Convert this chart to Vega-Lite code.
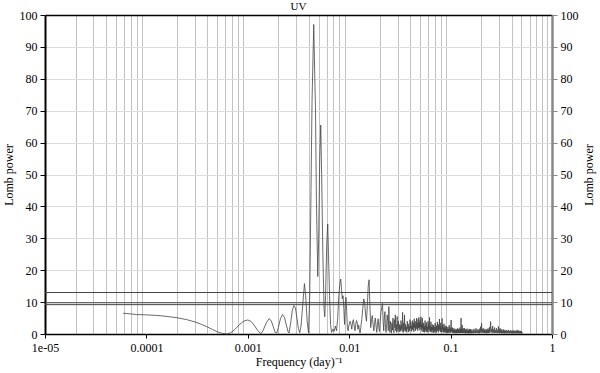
{
  "$schema": "https://vega.github.io/schema/vega-lite/v6.json",
  "autosize": {"type": "none"},
  "width": 507,
  "height": 319,
  "padding": {"left": 45, "top": 15, "right": 48, "bottom": 39},
  "background": "white",
  "config": {
    "font": "Liberation Serif",
    "view": {"stroke": null},
    "axis": {"labelFont": "Liberation Serif", "titleFont": "Liberation Serif", "labelFontSize": 12, "titleFontSize": 12, "titleFontWeight": "normal", "labelColor": "#000", "titleColor": "#000"}
  },
  "title": {"text": "UV", "fontSize": 11, "fontWeight": "normal", "font": "Liberation Serif", "offset": 1, "dy": 4, "color": "#000"},
  "data": {"values": [
    {"f":0.000059,"p":6.5},{"f":0.00007,"p":6.3},{"f":0.00008,"p":6.1},{"f":0.0001,"p":6.0},{"f":0.00013,"p":5.8},{"f":0.00016,"p":5.5},{"f":0.0002,"p":5.1},{"f":0.00025,"p":4.5},{"f":0.0003,"p":3.8},{"f":0.00035,"p":3.0},{"f":0.0004,"p":2.2},{"f":0.00045,"p":1.4},{"f":0.0005,"p":0.7},{"f":0.00056,"p":0.2},{"f":0.00062,"p":0.0},{"f":0.00068,"p":0.4},{"f":0.00075,"p":1.5},{"f":0.00083,"p":3.0},{"f":0.00092,"p":4.1},{"f":0.001,"p":4.4},{"f":0.00108,"p":3.9},{"f":0.00117,"p":2.5},{"f":0.00127,"p":0.8},{"f":0.00135,"p":0.1},{"f":0.00142,"p":1.2},{"f":0.00152,"p":3.5},{"f":0.00162,"p":4.8},{"f":0.0017,"p":4.2},{"f":0.00178,"p":2.4},{"f":0.00186,"p":0.5},{"f":0.00193,"p":0.3},{"f":0.002,"p":2.0},{"f":0.0021,"p":4.8},{"f":0.0022,"p":6.1},{"f":0.0023,"p":5.2},{"f":0.0024,"p":2.8},{"f":0.0025,"p":0.6},{"f":0.00255,"p":0.3},{"f":0.00265,"p":3.5},{"f":0.00275,"p":7.5},{"f":0.00285,"p":8.9},{"f":0.00295,"p":8.2},{"f":0.00305,"p":5.0},{"f":0.00315,"p":1.8},{"f":0.00325,"p":0.4},{"f":0.00335,"p":2.5},{"f":0.0035,"p":10},{"f":0.00362,"p":15.8},{"f":0.00372,"p":12},{"f":0.00385,"p":4},{"f":0.00397,"p":0.3},{"f":0.00408,"p":12},{"f":0.0042,"p":45},{"f":0.0043,"p":73},{"f":0.00447,"p":97},{"f":0.00458,"p":80},{"f":0.00465,"p":71},{"f":0.00475,"p":42},{"f":0.0049,"p":18},{"f":0.005,"p":30},{"f":0.00512,"p":55},{"f":0.00524,"p":65.5},{"f":0.00535,"p":50},{"f":0.0055,"p":25},{"f":0.00565,"p":8},{"f":0.00574,"p":5.4},{"f":0.00585,"p":12},{"f":0.006,"p":28},{"f":0.00614,"p":34.5},{"f":0.00625,"p":25},{"f":0.0064,"p":12},{"f":0.00655,"p":3},{"f":0.0067,"p":0.5},
    {"f":0.0069,"p":1.5},{"f":0.0071,"p":0.8},{"f":0.0073,"p":2.5},{"f":0.0075,"p":1.0},{"f":0.0077,"p":5},{"f":0.0079,"p":12},{"f":0.0081,"p":16},{"f":0.00825,"p":17.2},{"f":0.0084,"p":14},{"f":0.00855,"p":11},{"f":0.0087,"p":12},{"f":0.00885,"p":8},{"f":0.009,"p":3},{"f":0.00915,"p":9.5},{"f":0.0093,"p":11.5},{"f":0.00945,"p":7},{"f":0.0096,"p":2},{"f":0.00975,"p":1},{"f":0.0099,"p":2.5},
    {"f":0.0102,"p":4},{"f":0.0104,"p":3.2},{"f":0.0106,"p":1.5},{"f":0.0108,"p":3.8},{"f":0.011,"p":4.5},{"f":0.0112,"p":2.5},{"f":0.0114,"p":1.0},{"f":0.0116,"p":3},{"f":0.0118,"p":4.2},{"f":0.012,"p":3.5},{"f":0.0122,"p":1.5},{"f":0.0124,"p":2.8},{"f":0.0126,"p":1.2},{"f":0.0128,"p":0.3},{"f":0.013,"p":2.0},{"f":0.0133,"p":4.5},{"f":0.0136,"p":8},{"f":0.0139,"p":11},{"f":0.0142,"p":10},{"f":0.0145,"p":6},{"f":0.0148,"p":4},{"f":0.0151,"p":9},{"f":0.0154,"p":15},{"f":0.0157,"p":17},{"f":0.016,"p":9},{"f":0.0163,"p":2},{"f":0.0166,"p":4.5},{"f":0.0169,"p":5.8},{"f":0.0172,"p":3},{"f":0.0175,"p":1},{"f":0.0178,"p":3.5},{"f":0.0181,"p":5},{"f":0.0184,"p":2.5},{"f":0.0187,"p":0.5},{"f":0.019,"p":3},{"f":0.0193,"p":4.8},{"f":0.0196,"p":2},{"f":0.0199,"p":0.8},
    {"f":0.0202,"p":4},{"f":0.0206,"p":7},{"f":0.021,"p":8.5},{"f":0.0213,"p":9.6},{"f":0.0216,"p":4},{"f":0.0219,"p":1},{"f":0.0222,"p":5},{"f":0.0225,"p":7},{"f":0.0228,"p":2},{"f":0.0231,"p":0.5},{"f":0.0234,"p":3},{"f":0.0237,"p":6},{"f":0.024,"p":4},{"f":0.0243,"p":1},{"f":0.0246,"p":8.6},{"f":0.0249,"p":3},{"f":0.0252,"p":0.5},{"f":0.0255,"p":4},{"f":0.0258,"p":2},{"f":0.0261,"p":0.3},{"f":0.0264,"p":3.5},{"f":0.0267,"p":1.2},{"f":0.027,"p":5},{"f":0.0273,"p":1.5},{"f":0.0276,"p":0.4},{"f":0.0279,"p":4.5},{"f":0.0282,"p":2},{"f":0.0285,"p":6},{"f":0.0288,"p":1},{"f":0.0291,"p":3},{"f":0.0294,"p":0.5},{"f":0.0297,"p":5.5},{"f":0.03,"p":2},{"f":0.0303,"p":0.8},{"f":0.0306,"p":4},{"f":0.0309,"p":1.5},{"f":0.0312,"p":3},{"f":0.0315,"p":0.6},{"f":0.0318,"p":2.5},{"f":0.0321,"p":1},{"f":0.0324,"p":4.2},{"f":0.0327,"p":1.5},{"f":0.033,"p":3},{"f":0.0333,"p":0.8},{"f":0.0336,"p":6.8},{"f":0.0339,"p":2},{"f":0.0342,"p":0.5},{"f":0.0345,"p":3.5},{"f":0.0348,"p":1.2},{"f":0.0351,"p":6},{"f":0.0354,"p":2},{"f":0.0357,"p":0.8},{"f":0.036,"p":3},{"f":0.0363,"p":1},{"f":0.0366,"p":2.2},{"f":0.037,"p":0.5},{"f":0.0374,"p":4},{"f":0.0378,"p":1.5},{"f":0.0382,"p":3.2},{"f":0.0386,"p":0.6},{"f":0.039,"p":2.5},{"f":0.0394,"p":1},{"f":0.0398,"p":4.5},{"f":0.0402,"p":1.8},{"f":0.0406,"p":3.8},{"f":0.041,"p":0.8},{"f":0.0414,"p":2.6},{"f":0.0418,"p":1.2},{"f":0.0422,"p":4.2},{"f":0.0426,"p":1.5},{"f":0.043,"p":3.5},{"f":0.0434,"p":0.7},{"f":0.0438,"p":4.8},{"f":0.0442,"p":2},{"f":0.0446,"p":3},{"f":0.045,"p":1},{"f":0.0454,"p":4},{"f":0.0458,"p":1.5},{"f":0.0462,"p":5},{"f":0.0466,"p":2},{"f":0.047,"p":3.5},{"f":0.0474,"p":1},{"f":0.0478,"p":4.6},{"f":0.0482,"p":1.8},{"f":0.0486,"p":5.2},{"f":0.049,"p":2},{"f":0.0494,"p":3.8},{"f":0.0498,"p":1.2},
    {"f":0.0502,"p":4.5},{"f":0.0506,"p":2.2},{"f":0.051,"p":5.4},{"f":0.0514,"p":1.5},{"f":0.0518,"p":3.2},{"f":0.0522,"p":0.8},{"f":0.0526,"p":5},{"f":0.053,"p":1.8},{"f":0.0534,"p":2.8},{"f":0.0538,"p":0.6},{"f":0.0542,"p":3.5},{"f":0.0546,"p":1},{"f":0.055,"p":2.4},{"f":0.0555,"p":0.5},{"f":0.056,"p":4.2},{"f":0.0565,"p":1.2},{"f":0.057,"p":2.8},{"f":0.0575,"p":0.6},{"f":0.058,"p":3.6},{"f":0.0585,"p":1},{"f":0.059,"p":2.2},{"f":0.0595,"p":0.5},{"f":0.06,"p":4},{"f":0.0605,"p":1.5},{"f":0.061,"p":3},{"f":0.0615,"p":0.8},{"f":0.062,"p":5.2},{"f":0.0625,"p":1.5},{"f":0.063,"p":2.5},{"f":0.0635,"p":0.6},{"f":0.064,"p":3.8},{"f":0.0645,"p":1},{"f":0.065,"p":2.2},{"f":0.0655,"p":0.5},{"f":0.066,"p":3},{"f":0.0665,"p":1.2},{"f":0.067,"p":2},{"f":0.0675,"p":0.4},{"f":0.068,"p":2.8},{"f":0.0686,"p":0.8},{"f":0.0692,"p":2.2},{"f":0.0698,"p":0.5},{"f":0.0704,"p":3.4},{"f":0.071,"p":1},{"f":0.0716,"p":2},{"f":0.0722,"p":0.4},{"f":0.0728,"p":2.6},{"f":0.0734,"p":0.8},{"f":0.074,"p":3.8},{"f":0.0746,"p":1.2},{"f":0.0752,"p":2.4},{"f":0.0758,"p":0.5},{"f":0.0764,"p":3},{"f":0.077,"p":1},{"f":0.0776,"p":4.7},{"f":0.0782,"p":1.5},{"f":0.0788,"p":2.5},{"f":0.0794,"p":0.6},{"f":0.08,"p":3.5},{"f":0.0806,"p":1},{"f":0.0812,"p":2},{"f":0.0818,"p":0.5},{"f":0.0824,"p":4.9},{"f":0.083,"p":1.5},{"f":0.0836,"p":2.8},{"f":0.0842,"p":0.6},{"f":0.0848,"p":2},{"f":0.0854,"p":0.5},{"f":0.086,"p":3.2},{"f":0.0866,"p":0.8},{"f":0.0872,"p":2},{"f":0.0878,"p":0.4},{"f":0.0885,"p":2.6},{"f":0.0892,"p":0.7},{"f":0.0899,"p":1.8},{"f":0.0906,"p":0.4},{"f":0.0913,"p":2.4},{"f":0.092,"p":0.6},{"f":0.0927,"p":1.6},{"f":0.0934,"p":0.3},{"f":0.0941,"p":2.2},{"f":0.0948,"p":0.6},{"f":0.0955,"p":1.5},{"f":0.0962,"p":0.3},{"f":0.0969,"p":2.8},{"f":0.0976,"p":0.8},{"f":0.0983,"p":1.6},{"f":0.099,"p":0.4},{"f":0.0997,"p":2},
    {"f":0.1004,"p":0.5},{"f":0.1012,"p":4.4},{"f":0.102,"p":0.8},{"f":0.1028,"p":1.6},{"f":0.1036,"p":0.4},{"f":0.1044,"p":2},{"f":0.1052,"p":0.5},{"f":0.106,"p":1.4},{"f":0.1068,"p":0.3},{"f":0.1076,"p":1.8},{"f":0.1084,"p":0.4},{"f":0.1092,"p":1.2},{"f":0.11,"p":0.3},{"f":0.1108,"p":1.6},{"f":0.1116,"p":0.4},{"f":0.1124,"p":1.1},{"f":0.1132,"p":0.2},{"f":0.114,"p":1.5},{"f":0.1148,"p":0.4},{"f":0.1156,"p":1.2},{"f":0.1164,"p":0.3},{"f":0.1172,"p":1.8},{"f":0.118,"p":0.5},{"f":0.1188,"p":1.3},{"f":0.1196,"p":0.3},{"f":0.1204,"p":1.6},{"f":0.1212,"p":0.4},{"f":0.122,"p":1.1},{"f":0.1228,"p":0.3},{"f":0.1236,"p":2},{"f":0.1244,"p":0.4},{"f":0.1252,"p":1.4},{"f":0.126,"p":0.3},{"f":0.1268,"p":5},{"f":0.1276,"p":0.5},{"f":0.1284,"p":1.6},{"f":0.1292,"p":0.3},{"f":0.13,"p":2.8},{"f":0.1308,"p":0.5},{"f":0.1316,"p":1.4},{"f":0.1324,"p":0.3},{"f":0.1332,"p":1.8},{"f":0.134,"p":0.4},{"f":0.135,"p":1.2},{"f":0.136,"p":0.3},{"f":0.137,"p":1.9},{"f":0.138,"p":0.4},{"f":0.139,"p":1.1},{"f":0.14,"p":0.2},{"f":0.141,"p":1.5},{"f":0.142,"p":0.4},{"f":0.143,"p":1.2},{"f":0.144,"p":0.3},{"f":0.145,"p":1.7},{"f":0.146,"p":0.4},{"f":0.147,"p":1.0},{"f":0.148,"p":0.2},{"f":0.149,"p":1.4},{"f":0.15,"p":0.3},{"f":0.151,"p":1.1},{"f":0.152,"p":0.2},{"f":0.153,"p":1.6},{"f":0.154,"p":0.4},{"f":0.155,"p":1.2},{"f":0.156,"p":0.3},{"f":0.157,"p":1.5},{"f":0.158,"p":0.3},{"f":0.159,"p":1.0},{"f":0.16,"p":0.2},{"f":0.162,"p":1.4},{"f":0.164,"p":0.3},{"f":0.166,"p":1.1},{"f":0.168,"p":0.2},{"f":0.17,"p":1.6},{"f":0.172,"p":0.4},{"f":0.174,"p":1.2},{"f":0.176,"p":0.3},{"f":0.178,"p":1.8},{"f":0.18,"p":0.4},{"f":0.182,"p":1.1},{"f":0.184,"p":0.3},{"f":0.186,"p":1.5},{"f":0.188,"p":0.3},{"f":0.19,"p":1.2},{"f":0.192,"p":0.2},{"f":0.194,"p":1.7},{"f":0.196,"p":0.4},{"f":0.198,"p":2.3},
    {"f":0.2,"p":0.5},{"f":0.202,"p":3.4},{"f":0.204,"p":0.6},{"f":0.206,"p":1.4},{"f":0.208,"p":0.3},{"f":0.21,"p":1.8},{"f":0.212,"p":0.4},{"f":0.214,"p":1.2},{"f":0.216,"p":0.3},{"f":0.218,"p":1.6},{"f":0.22,"p":0.4},{"f":0.222,"p":1.1},{"f":0.224,"p":0.2},{"f":0.226,"p":1.5},{"f":0.228,"p":0.3},{"f":0.23,"p":1.2},{"f":0.232,"p":0.3},{"f":0.234,"p":1.8},{"f":0.236,"p":0.4},{"f":0.238,"p":1.3},{"f":0.24,"p":0.3},{"f":0.242,"p":2.2},{"f":0.245,"p":0.5},{"f":0.248,"p":3.9},{"f":0.251,"p":0.6},{"f":0.254,"p":1.6},{"f":0.257,"p":0.3},{"f":0.26,"p":2.5},{"f":0.263,"p":0.4},{"f":0.266,"p":1.4},{"f":0.269,"p":0.3},{"f":0.272,"p":2},{"f":0.275,"p":0.4},{"f":0.278,"p":1.2},{"f":0.281,"p":0.3},{"f":0.284,"p":1.8},{"f":0.287,"p":0.4},{"f":0.29,"p":1.2},{"f":0.293,"p":0.3},{"f":0.296,"p":2.4},{"f":0.299,"p":0.4},{"f":0.302,"p":1.5},{"f":0.305,"p":0.3},{"f":0.308,"p":1.8},{"f":0.311,"p":0.4},{"f":0.314,"p":1.1},{"f":0.317,"p":0.2},{"f":0.32,"p":1.5},{"f":0.323,"p":0.3},{"f":0.326,"p":1.0},{"f":0.329,"p":0.2},{"f":0.332,"p":1.4},{"f":0.335,"p":0.3},{"f":0.338,"p":1.0},{"f":0.341,"p":0.2},{"f":0.344,"p":1.3},{"f":0.347,"p":0.3},{"f":0.35,"p":0.9},{"f":0.353,"p":0.2},{"f":0.356,"p":1.2},{"f":0.36,"p":0.3},{"f":0.364,"p":1.0},{"f":0.368,"p":0.2},{"f":0.372,"p":1.3},{"f":0.376,"p":0.3},{"f":0.38,"p":0.9},{"f":0.384,"p":0.2},{"f":0.388,"p":1.2},{"f":0.392,"p":0.3},{"f":0.396,"p":0.9},{"f":0.4,"p":0.2},{"f":0.404,"p":1.1},{"f":0.408,"p":0.3},{"f":0.412,"p":0.8},{"f":0.416,"p":0.2},{"f":0.42,"p":1.2},{"f":0.424,"p":0.3},{"f":0.428,"p":0.9},{"f":0.432,"p":0.2},{"f":0.436,"p":1.0},{"f":0.44,"p":0.3},{"f":0.444,"p":0.8},{"f":0.448,"p":0.2},{"f":0.452,"p":1.3},{"f":0.456,"p":0.3},{"f":0.46,"p":0.9},{"f":0.464,"p":0.2},{"f":0.468,"p":1.1},{"f":0.472,"p":0.3},{"f":0.476,"p":0.8},{"f":0.48,"p":0.2},{"f":0.484,"p":1.0},{"f":0.488,"p":0.3},{"f":0.492,"p":0.9},{"f":0.496,"p":0.2},{"f":0.5,"p":0.8},{"f":0.505,"p":0.2},{"f":0.51,"p":0.6}
  ]},
  "layer": [
    {
      "mark": {"type": "line", "strokeOpacity": 0},
      "encoding": {
        "x": {"field": "f", "type": "quantitative", "scale": {"type": "log", "domain": [0.00001, 1], "nice": false},
          "axis": {"orient": "top", "title": null, "labels": false, "ticks": false, "domainColor": "#000", "domainWidth": 1.5, "grid": true, "gridColor": "#c2c2c2", "gridWidth": 1,
            "values": [0.00002,0.00003,0.00004,0.00005,0.00006,0.00007,0.00008,0.00009,0.0002,0.0003,0.0004,0.0005,0.0006,0.0007,0.0008,0.0009,0.002,0.003,0.004,0.005,0.006,0.007,0.008,0.009,0.02,0.03,0.04,0.05,0.06,0.07,0.08,0.09,0.2,0.3,0.4,0.5,0.6,0.7,0.8,0.9]}},
        "y": {"field": "p", "type": "quantitative", "scale": {"domain": [0, 100], "nice": false},
          "axis": {"orient": "right", "title": "Lomb power", "titleAngle": 270, "titleBaseline": "top", "titlePadding": 5, "values": [0,10,20,30,40,50,60,70,80,90,100], "domainColor": "#888", "domainWidth": 2.5, "tickColor": "#888", "tickSize": 5, "labelPadding": 3, "grid": false}}
      }
    },
    {
      "data": {"values": [{"lvl": 13.0}, {"lvl": 9.8}, {"lvl": 9.2}]},
      "mark": {"type": "rule", "color": "#444", "strokeWidth": 1},
      "encoding": {"y": {"field": "lvl", "type": "quantitative", "axis": null}}
    },
    {
      "mark": {"type": "line", "color": "#444", "strokeWidth": 0.8},
      "encoding": {
        "x": {"field": "f", "type": "quantitative",
          "axis": {"orient": "bottom", "title": "Frequency (day)⁻¹", "titlePadding": 3, "values": [0.00001,0.0001,0.001,0.01,0.1,1], "labelExpr": "datum.value < 0.00005 ? '1e-05' : datum.value < 0.0005 ? '0.0001' : datum.value < 0.005 ? '0.001' : datum.value < 0.05 ? '0.01' : datum.value < 0.5 ? '0.1' : '1'", "domainColor": "#000", "domainWidth": 1.5, "tickColor": "#000", "tickSize": 4, "labelPadding": 4, "grid": false, "labelFlush": false}},
        "y": {"field": "p", "type": "quantitative",
          "axis": {"orient": "left", "title": "Lomb power", "titlePadding": 4, "values": [0,10,20,30,40,50,60,70,80,90,100], "domainColor": "#000", "domainWidth": 2, "tickColor": "#000", "tickSize": 5, "labelPadding": 3, "grid": true, "gridColor": "#dcdcdc", "gridWidth": 1}}
      }
    }
  ],
  "resolve": {"scale": {"x": "shared", "y": "shared"}, "axis": {"x": "independent", "y": "independent"}}
}
